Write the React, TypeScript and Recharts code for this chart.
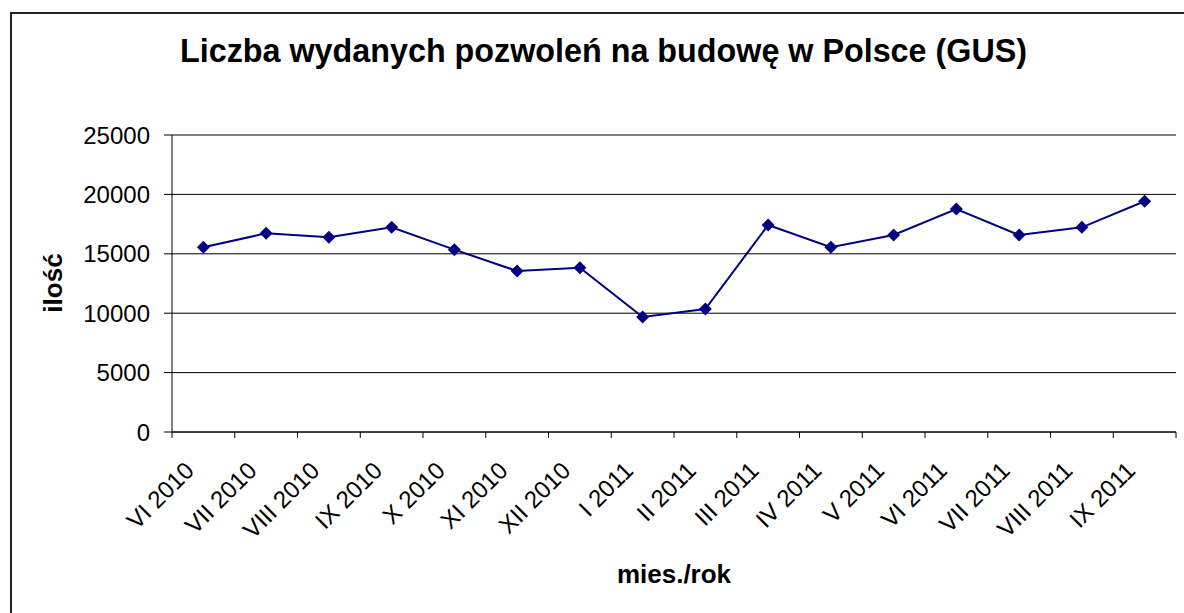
import React from 'react'
import { LineChart, Line, XAxis, YAxis, CartesianGrid } from 'recharts'

const months = [
  'VI 2010', 'VII 2010', 'VIII 2010', 'IX 2010', 'X 2010', 'XI 2010', 'XII 2010',
  'I 2011', 'II 2011', 'III 2011', 'IV 2011', 'V 2011', 'VI 2011', 'VII 2011',
  'VIII 2011', 'IX 2011',
]
const permits = [
  15550, 16720, 16390, 17230, 15350, 13550, 13830, 9680,
  10350, 17420, 15550, 16580, 18770, 16580, 17230, 19420,
]
const yTicks = [0, 5000, 10000, 15000, 20000, 25000]

const W = 1184
const H = 613
const FONT = '"Liberation Sans", Arial, sans-serif'
const BAND = (1176 - 172) / months.length

const data = months.map((m, i) => ({ month: m, value: permits[i] }))

function MonthTick(props: any) {
  const { x, y, payload, index } = props
  const ax = x - 8
  const ay = y + 40
  return (
    <g>
      <line x1={x - BAND / 2} y1={y} x2={x - BAND / 2} y2={y + 6} stroke="#000" />
      {index === months.length - 1 && (
        <line x1={x + BAND / 2} y1={y} x2={x + BAND / 2} y2={y + 6} stroke="#000" />
      )}
      <text x={ax} y={ay} transform={`rotate(-45 ${ax} ${ay})`} textAnchor="end"
        fontSize={24} fontFamily={FONT} fill="#000">{payload.value}</text>
    </g>
  )
}

function Diamond(props: any) {
  const { cx, cy } = props
  if (cx == null || cy == null) return null
  const r = 6.5
  return <polygon points={`${cx},${cy - r} ${cx + r},${cy} ${cx},${cy + r} ${cx - r},${cy}`} fill="#000080" />
}

export default function App() {
  return (
    <div style={{ position: 'absolute', left: 0, top: 0, width: W, height: H, overflow: 'hidden', background: '#fff' }}>
      <div style={{ position: 'absolute', left: 0, top: 0 }}>
        <LineChart width={W} height={H} data={data} margin={{ top: 135, right: 8, left: 0, bottom: 0 }}>
          <CartesianGrid vertical={false} stroke="#000" />
          <XAxis dataKey="month" height={181} interval={0} tickLine={false} tickSize={0} tickMargin={0}
            padding={{ left: BAND / 2, right: BAND / 2 }}
            axisLine={{ stroke: '#000' }} tick={<MonthTick />} />
          <XAxis xAxisId="top" dataKey="month" orientation="top" height={0} tick={false} tickLine={false}
            axisLine={{ stroke: '#808080', strokeWidth: 2 }} />
          <YAxis width={172} domain={[0, 25000]} ticks={yTicks} tickSize={8} tickMargin={14}
            axisLine={{ stroke: '#000' }} tickLine={{ stroke: '#000' }}
            tick={{ fontSize: 24, fontFamily: FONT, fill: '#000' }} />
          <YAxis yAxisId="right" orientation="right" width={0} domain={[0, 25000]} tick={false} tickLine={false}
            axisLine={{ stroke: '#808080', strokeWidth: 2 }} />
          <Line dataKey="value" stroke="#000080" strokeWidth={2} dot={<Diamond />} activeDot={false}
            isAnimationActive={false} />
        </LineChart>
      </div>
      <svg width={W} height={H} style={{ position: 'absolute', left: 0, top: 0, pointerEvents: 'none' }}>
        <line x1={11} y1={12} x2={11} y2={H} stroke="#222" strokeWidth={2} />
        <line x1={10} y1={13} x2={W} y2={13} stroke="#222" strokeWidth={2} />
        <text x={603.5} y={62} textAnchor="middle" fontSize={32.3} fontWeight="bold" fontFamily={FONT} fill="#000">
          Liczba wydanych pozwoleń na budowę w Polsce (GUS)
        </text>
        <text x={62} y={283} transform="rotate(-90 62 283)" textAnchor="middle" fontSize={26} fontWeight="bold"
          fontFamily={FONT} fill="#000">ilość</text>
        <text x={674} y={583} textAnchor="middle" fontSize={26} fontWeight="bold" fontFamily={FONT} fill="#000">
          mies./rok
        </text>
      </svg>
    </div>
  )
}
